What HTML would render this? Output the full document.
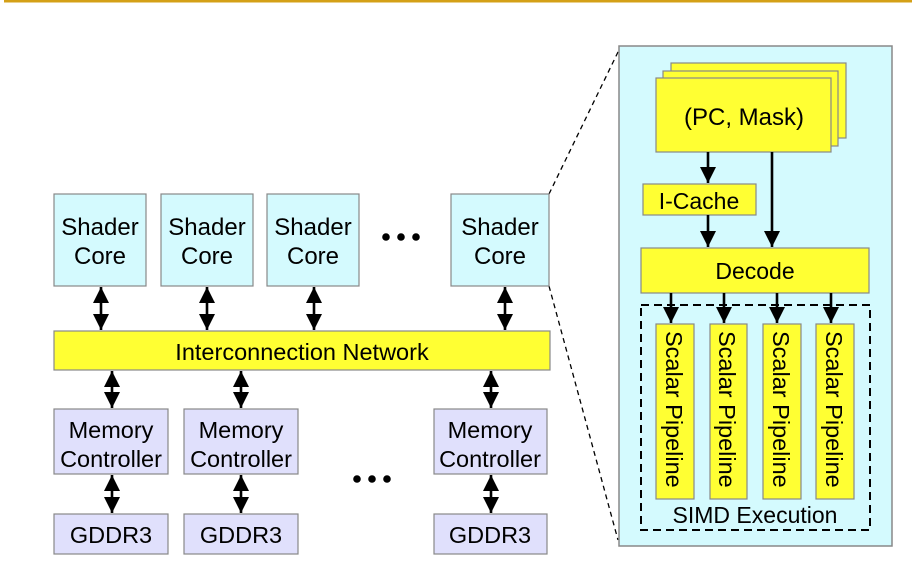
<!DOCTYPE html>
<html><head><meta charset="utf-8"><style>
html,body{margin:0;padding:0;background:#fff;}
svg{display:block;}
text{font-family:"Liberation Sans",Arial,sans-serif;fill:#000;}
</style></head><body>
<svg width="912" height="576" viewBox="0 0 912 576" xmlns="http://www.w3.org/2000/svg">
<defs>
<marker id="ah" viewBox="0 0 10 10" refX="10" refY="5" markerWidth="6.2" markerHeight="6.2" orient="auto-start-reverse" markerUnits="strokeWidth">
<path d="M0,0 L10,5 L0,10 z" fill="#000"/>
</marker>
</defs>
<rect x="4" y="0" width="908" height="2.5" fill="#d4a017"/>

<line x1="549" y1="194" x2="619" y2="50" stroke="#000" stroke-width="1.3" stroke-dasharray="5,4"/>
<line x1="549" y1="286" x2="618" y2="540" stroke="#000" stroke-width="1.3" stroke-dasharray="5,4"/>

<g stroke="#888" stroke-width="1.2" fill="#d4fafe">
<rect x="54" y="194" width="92" height="92"/>
<rect x="161" y="194" width="92" height="92"/>
<rect x="267" y="194" width="92" height="92"/>
<rect x="451" y="194" width="98" height="92"/>
</g>
<g font-size="24" text-anchor="middle">
<text x="100" y="235">Shader</text><text x="100" y="264">Core</text>
<text x="207" y="235">Shader</text><text x="207" y="264">Core</text>
<text x="313" y="235">Shader</text><text x="313" y="264">Core</text>
<text x="500" y="235">Shader</text><text x="500" y="264">Core</text>
</g>
<g fill="#000"><circle cx="386" cy="237" r="3.8"/><circle cx="401" cy="237" r="3.8"/><circle cx="416" cy="237" r="3.8"/>
<circle cx="357" cy="479" r="3.8"/><circle cx="372" cy="479" r="3.8"/><circle cx="387" cy="479" r="3.8"/></g>

<rect x="54" y="331" width="496" height="39" fill="#ffff33" stroke="#888" stroke-width="1.2"/>
<text x="302" y="360" font-size="23.5" text-anchor="middle">Interconnection Network</text>

<g stroke="#000" stroke-width="2.6" marker-start="url(#ah)" marker-end="url(#ah)">
<line x1="101" y1="287" x2="101" y2="330"/>
<line x1="207" y1="287" x2="207" y2="330"/>
<line x1="314" y1="287" x2="314" y2="330"/>
<line x1="505" y1="287" x2="505" y2="330"/>
<line x1="112" y1="371" x2="112" y2="408"/>
<line x1="241" y1="371" x2="241" y2="408"/>
<line x1="491" y1="371" x2="491" y2="408"/>
<line x1="112" y1="475" x2="112" y2="513"/>
<line x1="241" y1="475" x2="241" y2="513"/>
<line x1="491" y1="475" x2="491" y2="513"/>
</g>

<g stroke="#888" stroke-width="1.2" fill="#e0e0fc">
<rect x="54" y="409" width="114" height="65"/>
<rect x="184" y="409" width="114" height="65"/>
<rect x="434" y="409" width="113" height="65"/>
<rect x="54" y="514" width="114" height="40"/>
<rect x="184" y="514" width="114" height="40"/>
<rect x="434" y="514" width="113" height="40"/>
</g>
<g font-size="23.5" text-anchor="middle">
<text x="111" y="438">Memory</text><text x="111" y="467">Controller</text>
<text x="241" y="438">Memory</text><text x="241" y="467">Controller</text>
<text x="490" y="438">Memory</text><text x="490" y="467">Controller</text>
<text x="111" y="543">GDDR3</text><text x="241" y="543">GDDR3</text><text x="490" y="543">GDDR3</text>
</g>

<rect x="619" y="46" width="273" height="500" fill="#d4fafe" stroke="#888" stroke-width="1.5"/>
<g fill="#ffff33" stroke="#888" stroke-width="1.2">
<rect x="671" y="63" width="175" height="75"/>
<rect x="663" y="71" width="175" height="75"/>
<rect x="656" y="78" width="175" height="74"/>
<rect x="643" y="184" width="113" height="31"/>
<rect x="641" y="248" width="228" height="45"/>
<rect x="656" y="324" width="38" height="175"/>
<rect x="710" y="324" width="37" height="175"/>
<rect x="763" y="324" width="38" height="175"/>
<rect x="816" y="324" width="38" height="175"/>
</g>
<text x="744" y="125" font-size="24" text-anchor="middle">(PC, Mask)</text>
<text x="699" y="209" font-size="23" text-anchor="middle">I-Cache</text>
<text x="755" y="279" font-size="23" text-anchor="middle">Decode</text>
<g font-size="23.5">
<text transform="translate(666,331) rotate(90)">Scalar Pipeline</text>
<text transform="translate(719,331) rotate(90)">Scalar Pipeline</text>
<text transform="translate(773,331) rotate(90)">Scalar Pipeline</text>
<text transform="translate(826,331) rotate(90)">Scalar Pipeline</text>
</g>
<rect x="641" y="305" width="229" height="225" fill="none" stroke="#000" stroke-width="2" stroke-dasharray="8,5"/>
<text x="755" y="523" font-size="23" text-anchor="middle">SIMD Execution</text>
<g stroke="#000" stroke-width="2.6" marker-end="url(#ah)">
<line x1="708" y1="152" x2="708" y2="183"/>
<line x1="772" y1="152" x2="772" y2="247"/>
<line x1="708" y1="215" x2="708" y2="247"/>
<line x1="671" y1="293" x2="671" y2="323"/>
<line x1="724" y1="293" x2="724" y2="323"/>
<line x1="777" y1="293" x2="777" y2="323"/>
<line x1="831" y1="293" x2="831" y2="323"/>
</g>
</svg>
</body></html>
